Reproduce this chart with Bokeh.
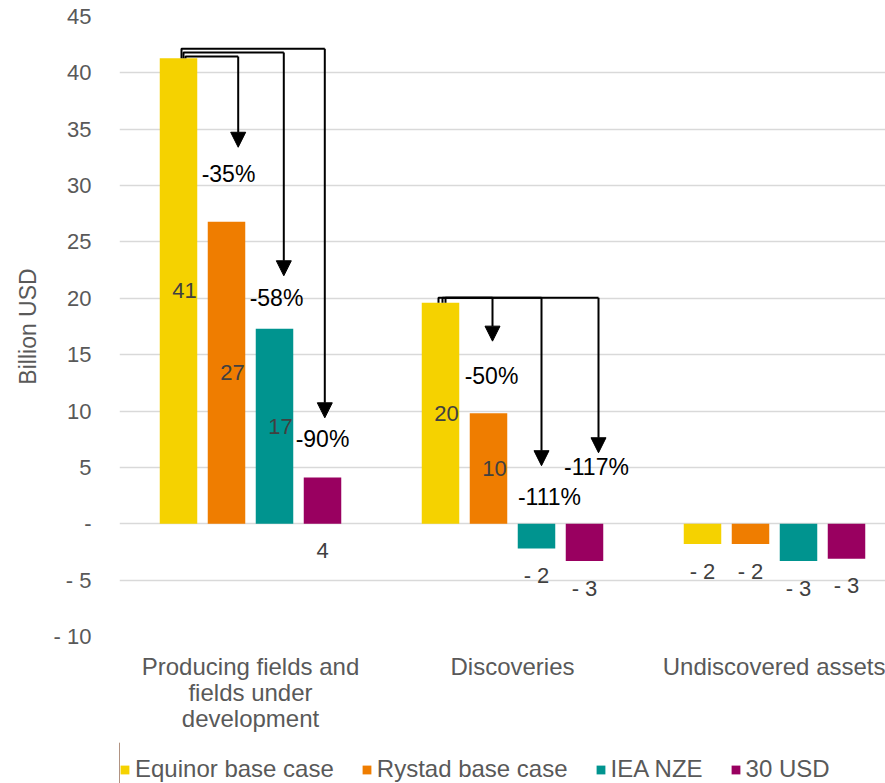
from bokeh.plotting import figure
from bokeh.layouts import column
from bokeh.models import (ColumnDataSource, FixedTicker, Legend, LegendItem,
                          Arrow, NormalHead, Range1d)
from bokeh.embed import file_html
from bokeh.resources import INLINE
from bokeh.core.properties import value

# ---- data -------------------------------------------------------------
categories = ["Producing fields and\nfields under\ndevelopment",
              "Discoveries", "Undiscovered assets"]
series = ["Equinor base case", "Rystad base case", "IEA NZE", "30 USD"]
colors = ["#F5D200", "#EF7D00", "#00948F", "#990060"]

equinor_base = [41.3, 19.6, -1.8]
rystad_base = [26.8, 9.8, -1.8]
iea_nze = [17.3, -2.2, -3.3]
usd_30 = [4.1, -3.3, -3.1]
values = [equinor_base, rystad_base, iea_nze, usd_30]

y_ticks = list(range(-10, 50, 5))

# change-vs-Equinor call-outs: (category, target series, arrow tip y, label y)
callouts = [
    (0, 1, 33.4, 31.0),
    (0, 2, 22.0, 20.05),
    (0, 3, 9.4, 7.5),
    (1, 1, 16.2, 13.1),
    (1, 2, 5.15, 2.4),
    (1, 3, 6.3, 5.0),
]

# ---- layout constants ---------------------------------------------------
FONT = "Liberation Sans"
PX = 1.0 / 262.0           # one screen pixel in category units
BAR_W = 37.5 * PX
BAR_STEP = 48 * PX
offsets = [(k - 1.5) * BAR_STEP for k in range(4)]

# per call-out fine placement (pixels): stub dx from base bar, bracket rise,
# arrow dx from target bar, label dx from target bar
callout_px = [
    (7, 0.15, 11.7, 2),
    (5, 0.50, 9.3, 2),
    (3, 0.85, 2.3, 0),
    (-2, 0.45, 4, 3),
    (2, 0.45, 5, 13),
    (5, 0.45, 14, 12),
]

p = figure(width=885, height=742,
           x_range=Range1d(0, 766 * PX), y_range=Range1d(-10, 45),
           output_backend="svg", toolbar_location=None,
           min_border_left=119, min_border_right=0,
           min_border_top=16, min_border_bottom=106)
p.outline_line_color = None
p.background_fill_color = "white"
p.border_fill_color = "white"

# ---- axes ---------------------------------------------------------------
p.xgrid.visible = False
p.ygrid.grid_line_color = "#D9D9D9"
p.ygrid.grid_line_width = 1.5
p.ygrid.ticker = FixedTicker(ticks=y_ticks)

ya = p.yaxis[0]
ya.ticker = FixedTicker(ticks=y_ticks)
ya.major_label_overrides = {t: ("-" if t == 0 else (f"- {abs(t)}" if t < 0 else str(t)))
                            for t in y_ticks}
ya.axis_line_color = None
ya.major_tick_line_color = None
ya.minor_tick_line_color = None
ya.major_tick_out = 0
ya.major_tick_in = 0
ya.major_label_standoff = 28
ya.major_label_text_font = FONT
ya.major_label_text_font_size = "22px"
ya.major_label_text_color = "#595959"
ya.axis_label = "Billion USD"
ya.axis_label_text_font = FONT
ya.axis_label_text_font_size = "23px"
ya.axis_label_text_font_style = "normal"
ya.axis_label_text_color = "#595959"
ya.axis_label_standoff = 10

xa = p.xaxis[0]
cat_x = [i + 0.5 for i in range(len(categories))]
xa.ticker = FixedTicker(ticks=cat_x)
xa.major_label_overrides = {x: c for x, c in zip(cat_x, categories)}
xa.axis_line_color = None
xa.major_tick_line_color = None
xa.minor_tick_line_color = None
xa.major_tick_out = 0
xa.major_tick_in = 0
xa.major_label_standoff = 16
xa.major_label_text_font = FONT
xa.major_label_text_font_size = "24px"
xa.major_label_text_color = "#595959"
xa.major_label_text_line_height = 0.98

# ---- bars -----------------------------------------------------------------
for k, (name, vals) in enumerate(zip(series, values)):
    src = ColumnDataSource(dict(x=[c + offsets[k] for c in cat_x],
                                top=vals, bottom=[0] * len(vals)))
    p.vbar(x="x", top="top", bottom="bottom", width=BAR_W, source=src,
           fill_color=colors[k], line_color=None)

# ---- value labels ---------------------------------------------------------
lx, ly, lt = [], [], []
for k, vals in enumerate(values):
    for i, v in enumerate(vals):
        n = round(v)
        txt = str(n) if n > 0 else ("-" if n == 0 else f"- {abs(n)}")
        if v > 5:
            lx.append(cat_x[i] + offsets[k] + 6 * PX)
            ly.append(v / 2)
        else:
            lx.append(cat_x[i] + offsets[k])
            ly.append(min(v, 0) - 2.4)
        lt.append(txt)
p.text(x=lx, y=ly, text=lt, text_font=value(FONT), text_font_size="22px",
       text_color="#404040", text_align="center", text_baseline="middle")

# ---- change call-outs -------------------------------------------------------
mx, my = [], []
a_src = dict(xs=[], ys=[], xe=[], ye=[])
px_, py_, pt_ = [], [], []
for (i, k, tip, laby), (sdx, rise, adx, tdx) in zip(callouts, callout_px):
    base = values[0][i]
    target = values[k][i]
    x0 = cat_x[i] + offsets[0] + sdx * PX
    xa_ = cat_x[i] + offsets[k] + adx * PX
    level = base + rise
    mx.append([x0, x0, xa_])
    my.append([base, level, level])
    a_src["xs"].append(xa_)
    a_src["ys"].append(level)
    a_src["xe"].append(xa_)
    a_src["ye"].append(tip)
    pct = round((target / base - 1) * 100)
    px_.append(cat_x[i] + offsets[k] + tdx * PX)
    py_.append(laby)
    pt_.append(f"{pct}%")

p.multi_line(xs=mx, ys=my, line_color="black", line_width=2)
p.add_layout(Arrow(end=NormalHead(size=15, fill_color="black", line_color="black"),
                   x_start="xs", y_start="ys", x_end="xe", y_end="ye",
                   line_color="black", line_width=2,
                   source=ColumnDataSource(a_src)))
p.text(x=px_, y=py_, text=pt_, text_font=value(FONT), text_font_size="23px",
       text_color="black", text_align="center", text_baseline="middle")

# ---- legend strip underneath --------------------------------------------------
q = figure(width=885, height=41, x_range=Range1d(0, 1), y_range=Range1d(0, 1),
           output_backend="svg", toolbar_location=None,
           x_axis_location=None, y_axis_location=None,
           min_border_left=0, min_border_right=0, min_border_top=0, min_border_bottom=0)
q.outline_line_color = None
q.background_fill_color = "white"
q.border_fill_color = "white"
q.grid.visible = False
q.grid.grid_line_color = None
swatches = []
for c in colors:
    # swatch renderers only; their single bar sits outside the visible range
    swatches.append(q.vbar(x=[-5], top=[1], bottom=[0], width=0.1,
                           fill_color=c, line_color=None))
legend = Legend(items=[LegendItem(label=s, renderers=[r]) for s, r in zip(series, swatches)],
                orientation="horizontal", location=(0, 0),
                label_text_font=FONT, label_text_font_size="24px",
                label_text_color="#595959", glyph_width=11, glyph_height=11,
                spacing=27, label_standoff=5, padding=0, margin=0,
                border_line_color=None, background_fill_alpha=0)
q.add_layout(legend, "center")

open("out.html", "w").write(file_html(column(p, q, spacing=0), INLINE))
